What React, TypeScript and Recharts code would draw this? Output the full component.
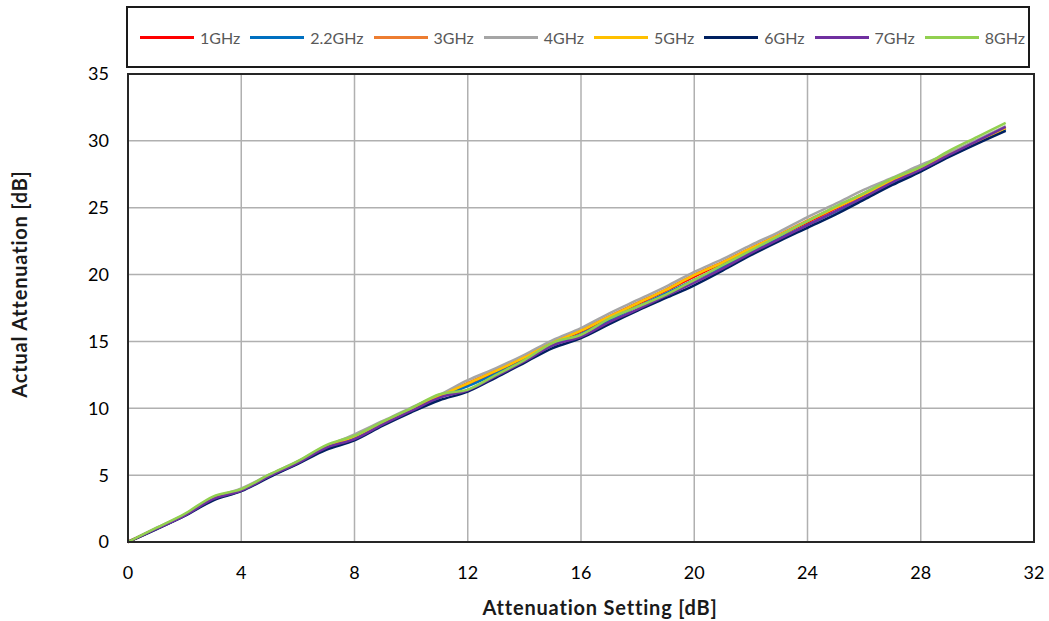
import React from 'react';
import { LineChart, Line, XAxis, YAxis, CartesianGrid, Legend, ReferenceArea } from 'recharts';

const settings = [0, 1, 2, 3, 4, 5, 6, 7, 8, 9, 10, 11, 12, 13, 14, 15, 16, 17, 18, 19, 20, 21, 22, 23, 24, 25, 26, 27, 28, 29, 30, 31];

const ghz1 = [0, 1.0, 2.0, 3.2, 3.9, 4.95, 5.95, 7.05, 7.85, 8.9, 9.9, 10.9, 11.8, 12.75, 13.75, 14.85, 15.75, 16.8, 17.8, 18.8, 19.85, 20.85, 21.9, 22.9, 23.9, 24.95, 25.95, 26.95, 27.9, 28.95, 29.95, 30.95];
const ghz2p2 = [0, 0.98, 1.98, 3.15, 3.85, 4.9, 5.9, 7.0, 7.75, 8.8, 9.8, 10.8, 11.65, 12.6, 13.6, 14.7, 15.55, 16.6, 17.6, 18.6, 19.6, 20.6, 21.7, 22.7, 23.7, 24.7, 25.75, 26.8, 27.75, 28.85, 29.85, 30.85];
const ghz3 = [0, 1.02, 2.02, 3.25, 3.95, 5.0, 6.0, 7.1, 7.95, 8.95, 9.95, 10.95, 11.9, 12.85, 13.85, 14.95, 15.85, 16.9, 17.9, 18.9, 20.0, 20.95, 22.0, 23.0, 24.05, 25.05, 26.1, 27.05, 28.0, 29.0, 30.0, 31.0];
const ghz4 = [0, 1.05, 2.05, 3.3, 4.0, 5.05, 6.05, 7.15, 8.05, 9.05, 10.05, 11.0, 12.1, 13.0, 14.0, 15.1, 16.0, 17.1, 18.1, 19.1, 20.2, 21.15, 22.2, 23.2, 24.3, 25.3, 26.35, 27.25, 28.2, 29.1, 30.1, 31.1];
const ghz5 = [0, 1.0, 2.0, 3.22, 3.92, 4.98, 5.98, 7.08, 7.9, 8.92, 9.92, 10.9, 11.85, 12.8, 13.8, 14.9, 15.8, 16.85, 17.85, 18.85, 19.95, 20.9, 21.95, 22.95, 24.0, 25.0, 26.0, 27.0, 27.95, 28.95, 29.95, 30.95];
const ghz6 = [0, 0.95, 1.95, 3.1, 3.8, 4.85, 5.85, 6.9, 7.6, 8.7, 9.7, 10.6, 11.25, 12.3, 13.4, 14.5, 15.25, 16.3, 17.3, 18.25, 19.2, 20.3, 21.45, 22.5, 23.5, 24.5, 25.6, 26.7, 27.7, 28.8, 29.8, 30.75];
const ghz7 = [0, 0.98, 1.98, 3.2, 3.85, 4.92, 5.92, 7.05, 7.7, 8.8, 9.8, 10.8, 11.35, 12.4, 13.5, 14.7, 15.35, 16.45, 17.4, 18.4, 19.4, 20.45, 21.6, 22.65, 23.7, 24.75, 25.8, 26.9, 27.85, 28.95, 30.0, 31.05];
const ghz8 = [0, 1.05, 2.1, 3.4, 3.95, 5.05, 6.05, 7.25, 7.95, 9.0, 10.0, 11.05, 11.4, 12.5, 13.6, 14.9, 15.5, 16.7, 17.6, 18.5, 19.6, 20.7, 21.8, 22.9, 24.0, 25.1, 26.1, 27.2, 28.05, 29.25, 30.3, 31.35];

const seriesNames = ['1GHz', '2.2GHz', '3GHz', '4GHz', '5GHz', '6GHz', '7GHz', '8GHz'];
const seriesValues = [ghz1, ghz2p2, ghz3, ghz4, ghz5, ghz6, ghz7, ghz8];
const seriesColors = ['#ff0000', '#0070c0', '#ed7d31', '#a5a5a5', '#ffc000', '#002060', '#7030a0', '#92d050'];

const xTicks = [0, 4, 8, 12, 16, 20, 24, 28, 32];
const yTicks = [0, 5, 10, 15, 20, 25, 30, 35];

const data = settings.map((x, i) => {
  const row: Record<string, number> = { x };
  seriesNames.forEach((n, k) => {
    row[n] = seriesValues[k][i];
  });
  return row;
});

const FONT = 'Lato, "Open Sans", sans-serif';

const LegendBox = (props: any) => {
  const payload = props.payload || [];
  return (
    <div
      style={{
        width: '100%',
        height: '100%',
        boxSizing: 'border-box',
        border: '2px solid #1a1a1a',
        display: 'flex',
        alignItems: 'center',
        paddingLeft: 12,
        gap: 10,
        fontFamily: FONT,
        fontSize: 16,
        color: '#595959',
      }}
    >
      {payload.map((p: any) => (
        <div key={p.value} style={{ display: 'flex', alignItems: 'center' }}>
          <div style={{ width: 54, height: 3, background: p.color, marginRight: 6 }} />
          <span>{p.value}</span>
        </div>
      ))}
    </div>
  );
};

const XTitle = (props: any) => {
  const vb = props.viewBox;
  return (
    <text
      x={vb.x + vb.width / 2 + 19}
      y={vb.y + vb.height - 6}
      textAnchor="middle"
      fontFamily={FONT}
      fontWeight="bold"
      fontSize={20}
      letterSpacing={0.8}
      fill="#1a1a1a"
    >
      Attenuation Setting [dB]
    </text>
  );
};

const YTitle = (props: any) => {
  const vb = props.viewBox;
  const cx = 27;
  const cy = vb.y + vb.height / 2 - 24;
  return (
    <text
      x={cx}
      y={cy}
      transform={`rotate(-90, ${cx}, ${cy})`}
      textAnchor="middle"
      fontFamily={FONT}
      fontWeight="bold"
      fontSize={20}
      letterSpacing={0.8}
      fill="#1a1a1a"
    >
      Actual Attenuation [dB]
    </text>
  );
};

export default function App() {
  return (
    <div style={{ position: 'absolute', left: 0, top: 0, width: 1049, height: 621, background: '#fff' }}>
      <LineChart
        width={1049}
        height={621}
        data={data}
        margin={{ top: 74, right: 15, bottom: 0, left: 0 }}
      >
        <CartesianGrid stroke="#b0b0b0" strokeWidth={1.5} />
        <XAxis
          dataKey="x"
          type="number"
          domain={[0, 32]}
          ticks={xTicks}
          interval={0}
          height={79}
          tickLine={false}
          tickSize={0}
          tickMargin={24}
          axisLine={{ stroke: '#262626', strokeWidth: 2 }}
          tick={{ fill: '#000', fontSize: 18, fontFamily: FONT }}
          label={<XTitle />}
        />
        <YAxis
          type="number"
          domain={[0, 35]}
          ticks={yTicks}
          interval={0}
          width={128}
          tickLine={false}
          tickSize={0}
          tickMargin={19}
          axisLine={{ stroke: '#262626', strokeWidth: 2 }}
          tick={{ fill: '#000', fontSize: 18, fontFamily: FONT }}
          label={<YTitle />}
        />
        <ReferenceArea x1={0} x2={32} y1={0} y2={35} stroke="#262626" strokeWidth={2} fill="none" fillOpacity={0} ifOverflow="visible" />
        <Legend
          layout="horizontal"
          verticalAlign="middle"
          align="center"
          content={<LegendBox />}
          wrapperStyle={{ left: 126, top: 6, width: 904, height: 62 }}
        />
        {seriesNames.map((n, k) => (
          <Line
            key={n}
            dataKey={n}
            name={n}
            type="monotone"
            stroke={seriesColors[k]}
            strokeWidth={2.5}
            dot={false}
            activeDot={false}
            isAnimationActive={false}
          />
        ))}
      </LineChart>
    </div>
  );
}
